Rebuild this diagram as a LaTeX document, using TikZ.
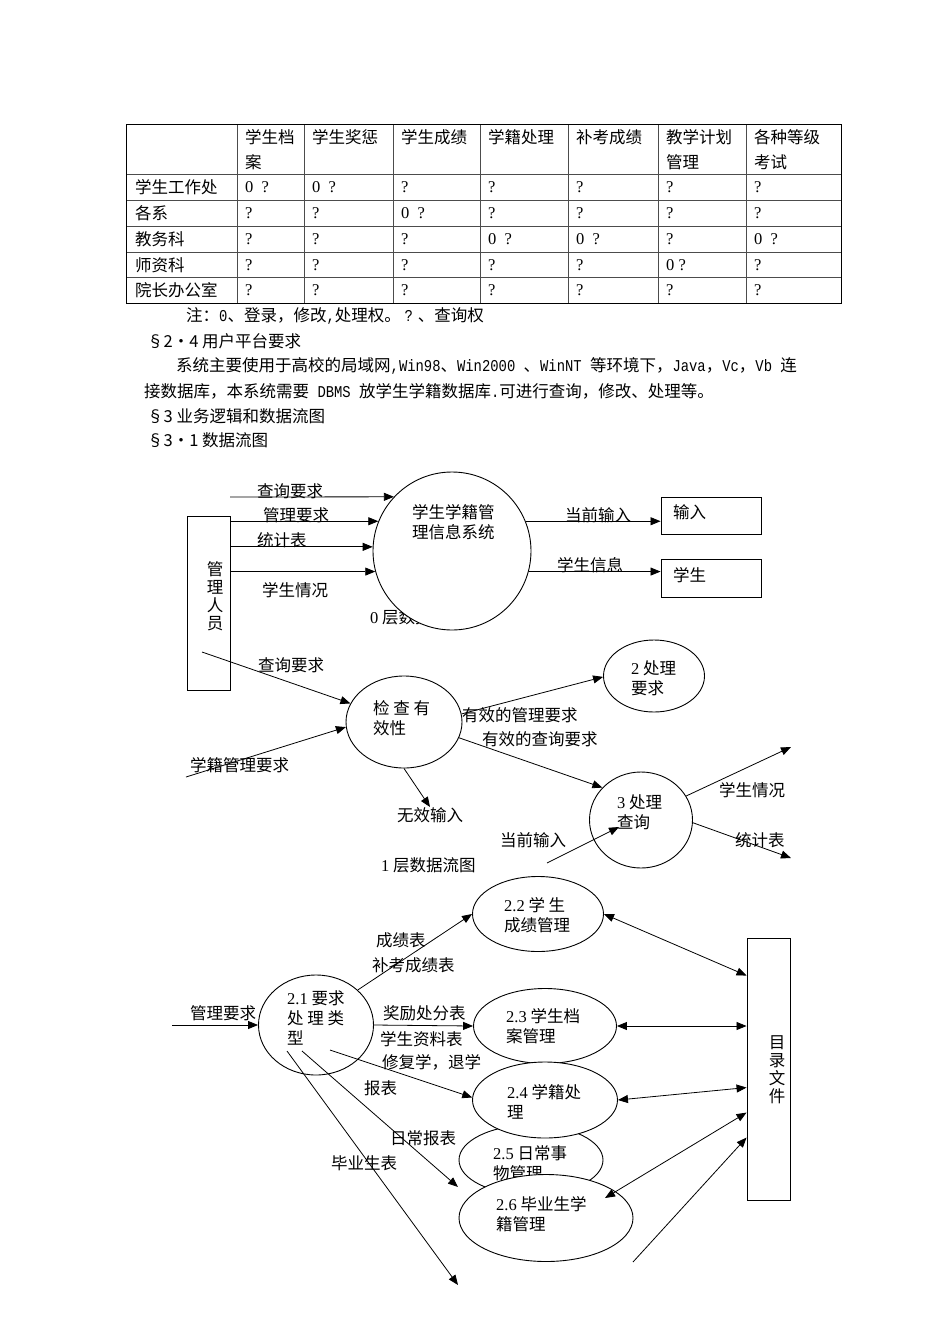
\documentclass[tikz,border=0pt]{standalone}
\usepackage{fontspec}
\setmainfont{Noto Sans CJK SC}
\newfontfamily\num{Liberation Serif}
\newfontfamily\hw[FakeStretch=0.84]{Liberation Mono}
\usetikzlibrary{shapes.geometric,arrows.meta}

\newcommand\tabfont{\fontsize{16.5}{25}\selectfont}
\newcommand\dfdfont{\fontsize{16.5}{20}\selectfont}

\tikzset{
  txt/.style={inner sep=0pt, anchor=west, align=left, font=\dfdfont},
  ttxt/.style={txt, font=\tabfont},
  vtxt/.style={inner sep=0pt, align=center, font=\fontsize{16.5}{18}\selectfont},
  proc/.style={draw, ellipse, fill=white, inner sep=0pt, line width=0.9pt},
  ent/.style={draw, rectangle, fill=white, inner sep=0pt, line width=0.9pt},
  arr/.style={-{Triangle[length=10pt,width=8pt]}, line width=0.8pt},
  biarr/.style={{Triangle[length=10pt,width=8pt]}-{Triangle[length=10pt,width=8pt]}, line width=0.8pt},
  cellline/.style={line width=0.8pt, black!70},
}

\begin{document}
\begin{tikzpicture}[x=1pt,y=-1pt]
\fill[white] (0,0) rectangle (950,1344);

% table of rights
\foreach \x in {237,304,393,480,568,658,746}
  \draw[cellline] (\x,124) -- (\x,303);
\foreach \y in {174,200,226,252,277}
  \draw[cellline] (126,\y) -- (841,\y);
\draw[line width=0.9pt] (126,124) rectangle (841,303);

\foreach \x/\t [count=\i] in {245/学生档,312/学生奖惩,401/学生成绩,488/学籍处理,576/补考成绩,666/教学计划,754/各种等级}
  \node[ttxt] (h\i) at (\x,137) {\t};
\node[ttxt] (h1b) at (245,162) {案};
\node[ttxt] (h6b) at (666,162) {管理};
\node[ttxt] (h7b) at (754,162) {考试};

\foreach \y/\r/\a/\b/\c/\d/\e/\f/\g in {
    187/学生工作处/0\enspace?/0\enspace?/?/?/?/?/?,
    213/各系/?/?/0\enspace?/?/?/?/?,
    239/教务科/?/?/?/0\enspace?/0\enspace?/?/0\enspace?,
    265/师资科/?/?/?/?/?/0 ?/?,
    290/院长办公室/?/?/?/?/?/?/?}{
  \node[ttxt] (r\y) at (135,\y) {\r};
  \node[ttxt] (r\y a) at (245,\y) {\num\a};
  \node[ttxt] (r\y b) at (312,\y) {\num\b};
  \node[ttxt] (r\y c) at (401,\y) {\num\c};
  \node[ttxt] (r\y d) at (488,\y) {\num\d};
  \node[ttxt] (r\y e) at (576,\y) {\num\e};
  \node[ttxt] (r\y f) at (666,\y) {\num\f};
  \node[ttxt] (r\y g) at (754,\y) {\num\g};
}

% running text
\node[ttxt] (note) at (186,316) {注：{\hw 0}、登录，修改{\hw ,}处理权。 {\hw ?} 、查询权};
\node[ttxt] (sec24) at (147,341) {§2•4 用户平台要求};
\node[ttxt] (par1) at (176,366) {系统主要使用于高校的局域网{\hw ,Win98}、{\hw Win2000 }、{\hw WinNT }等环境下，{\hw Java}，{\hw Vc}，{\hw Vb }连};
\node[ttxt] (par2) at (144,391) {接数据库，本系统需要{\hw\ DBMS }放学生学籍数据库{\hw .}可进行查询，修改、处理等。};
\node[ttxt] (sec3) at (147,416) {§3 业务逻辑和数据流图};
\node[ttxt] (sec31) at (147,440) {§3•1 数据流图};

% level 0
\node[txt] (l0-cap) at (370,617) {{\num 0} 层数据流图};
\node[proc, minimum width=158, minimum height=158] (sys) at (452,551) {};
\node[txt] (sys-t) at (412,522) {学生学籍管\\理信息系统};
\node[ent, minimum width=43, minimum height=174] (mgr) at (208.5,603) {};
\node[vtxt] (mgr-t) at (215,596) {管\\理\\人\\员};
\node[ent, minimum width=100, minimum height=37] (inbox) at (711,515.5) {};
\node[txt] (inbox-t) at (673,512) {输入};
\node[ent, minimum width=100, minimum height=38] (stud) at (711,578) {};
\node[txt] (stud-t) at (673,575) {学生};

\coordinate (q0) at (230,497);
\draw[arr] (q0) -- (sys.137);
\draw[arr] (mgr.east |- sys.158) -- (sys.158);
\draw[arr] (mgr.east |- sys.177) -- (sys.177);
\draw[arr] (mgr.east |- sys.195) -- (sys.195);
\draw[arr] (sys.22) -- (inbox.west |- sys.22);
\draw[arr] (sys.-15) -- (stud.west |- sys.-15);

\node[txt] (f-q0) at (257,491) {查询要求};
\node[txt] (f-mg0) at (263,515) {管理要求};
\node[txt] (f-st0) at (257,540) {统计表};
\node[txt] (f-sq0) at (262,590) {学生情况};
\node[txt] (f-cur0) at (565,515) {当前输入};
\node[txt] (f-inf0) at (557,565) {学生信息};

% level 1
\node[proc, minimum width=116, minimum height=92] (chk) at (404,722) {};
\node[txt] (chk-t) at (373,718) {检 查 有\\效性};
\node[proc, minimum width=101, minimum height=72] (p2) at (654,676) {};
\node[txt] (p2-t) at (631,678) {{\num 2} 处理\\要求};
\node[proc, minimum width=103, minimum height=96] (p3) at (641,820) {};
\node[txt] (p3-t) at (617,812) {{\num 3} 处理\\查询};

\coordinate (q1) at (202,652);
\coordinate (q2) at (186,777);
\coordinate (bad) at (430,807);
\coordinate (out1) at (791,747);
\coordinate (out2) at (791,858);
\coordinate (cur1) at (547,863);
\draw[arr] (q1) -- (chk);
\draw[arr] (q2) -- (chk.185);
\draw[arr] (chk.8) -- (p2.181);
\draw[arr] (chk.-16) -- (p3.140);
\draw[arr] (chk.south) -- (bad);
\draw[arr] (p3.28) -- (out1);
\draw[arr] (p3.-3) -- (out2);
\draw[arr] (cur1) -- ([xshift=-22pt,yshift=-7pt]p3.center);

\node[txt] (f-q1) at (258,665) {查询要求};
\node[txt] (f-xj1) at (190,765) {学籍管理要求};
\node[txt] (f-vm1) at (462,715) {有效的管理要求};
\node[txt] (f-vq1) at (482,739) {有效的查询要求};
\node[txt] (f-bad1) at (397,815) {无效输入};
\node[txt] (f-sq1) at (719,790) {学生情况};
\node[txt] (f-st1) at (735,840) {统计表};
\node[txt] (f-cur1) at (500,840) {当前输入};
\node[txt] (l1-cap) at (381,865) {{\num 1} 层数据流图};

% level 2
\node[proc, minimum width=115, minimum height=100] (e21) at (316,1025) {};
\node[txt] (e21-t) at (287,1018) {{\num 2.1} 要求\\处 理 类\\型};
\node[proc, minimum width=131, minimum height=75] (e22) at (538,914) {};
\node[txt] (e22-t) at (504,915) {{\num 2.2} 学 生\\成绩管理};
\node[proc, minimum width=143, minimum height=75] (e23) at (545,1026) {};
\node[txt] (e23-t) at (506,1026) {{\num 2.3} 学生档\\案管理};
\node[proc, minimum width=144, minimum height=70] (e25) at (531,1160) {};
\node[txt] (e25-t) at (493,1163) {{\num 2.5} 日常事\\物管理};
\node[proc, minimum width=145, minimum height=76] (e24) at (545,1100) {};
\node[txt] (e24-t) at (507,1102) {{\num 2.4} 学籍处\\理};
\node[proc, minimum width=174, minimum height=87] (e26) at (546,1218) {};
\node[txt] (e26-t) at (496,1214.5) {{\num 2.6} 毕业生学\\籍管理};
\node[ent, minimum width=43, minimum height=262] (dir) at (768.5,1069) {};
\node[vtxt] (dir-t) at (777,1070) {目\\录\\文\\件};

\coordinate (req) at (172,1025);
\coordinate (daily) at (458,1187);
\coordinate (grad) at (458,1285);
\coordinate (back) at (633,1262);
\draw[arr] (req) -- (e21.west);
\draw[arr] (e21.40) -- (e22.west);
\draw[arr] (e21.east) -- (e23.west);
\draw[arr] ([xshift=14pt,yshift=-25pt]e21.center) -- (e24.178);
\draw[arr] ([xshift=-14pt,yshift=-26pt]e21.center) -- (daily);
\draw[arr] ([xshift=-29pt,yshift=-26pt]e21.center) -- (grad);
\draw[biarr] (e22.east) -- ([yshift=-38pt]dir.north west);
\draw[biarr] (e23.east) -- (e23.east -| dir.west);
\draw[biarr] (e24.east) -- ([yshift=-150pt]dir.north west);
\draw[biarr] ([xshift=59pt,yshift=20pt]e26.center) -- ([yshift=-175pt]dir.north west);
\draw[arr] (back) -- ([yshift=-200pt]dir.north west);

\node[txt] (f-req2) at (190,1013) {管理要求};
\node[txt] (f-cj2) at (376,940) {成绩表};
\node[txt] (f-bk2) at (372,965) {补考成绩表};
\node[txt] (f-jl2) at (383,1013) {奖励处分表};
\node[txt] (f-zl2) at (380,1039) {学生资料表};
\node[txt] (f-fx2) at (382,1062) {修复学，退学};
\node[txt] (f-bb2) at (364,1088) {报表};
\node[txt] (f-rc2) at (390,1138) {日常报表};
\node[txt] (f-by2) at (331,1163) {毕业生表};

\end{tikzpicture}
\end{document}
